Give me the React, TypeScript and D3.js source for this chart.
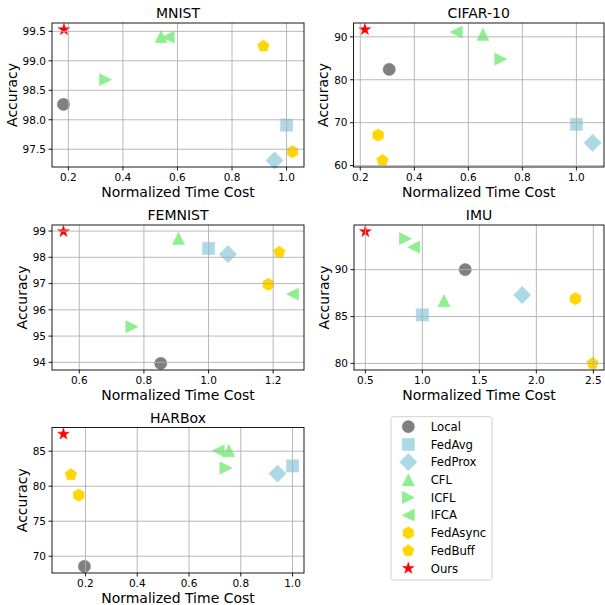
import React from "react";
import * as d3 from "d3";

const methods = ["Local", "FedAvg", "FedProx", "CFL", "ICFL", "IFCA", "FedAsync", "FedBuff", "Ours"];
const markerKinds = ["circle", "square", "diamond", "triUp", "triRight", "triLeft", "hexagon", "pentagon", "star"];
const colors = ["#808080", "#add8e6", "#add8e6", "#90ee90", "#90ee90", "#90ee90", "#ffd700", "#ffd700", "#ff0000"];

const titles = ["MNIST", "CIFAR-10", "FEMNIST", "IMU", "HARBox"];

const mnistCost = [0.182, 1.0, 0.956, 0.54, 0.336, 0.566, 1.022, 0.915, 0.184];
const mnistAcc = [98.26, 97.91, 97.31, 99.41, 98.68, 99.4, 97.46, 99.25, 99.53];
const cifarCost = [0.307, 1.0, 1.06, 0.654, 0.72, 0.555, 0.266, 0.282, 0.217];
const cifarAcc = [82.4, 69.6, 65.3, 90.6, 84.8, 91.1, 67.1, 61.2, 91.7];
const femnistCost = [0.852, 1.0, 1.06, 0.907, 0.763, 1.26, 1.185, 1.219, 0.551];
const femnistAcc = [93.96, 98.34, 98.12, 98.72, 95.36, 96.6, 96.97, 98.2, 98.98];
const imuCost = [1.376, 1.0, 1.876, 1.19, 0.852, 0.924, 2.343, 2.494, 0.5];
const imuAcc = [90.0, 85.17, 87.3, 86.7, 93.3, 92.4, 86.9, 80.0, 94.06];
const harboxCost = [0.196, 1.0, 0.942, 0.754, 0.743, 0.713, 0.174, 0.144, 0.115];
const harboxAcc = [68.55, 82.9, 81.8, 85.1, 82.6, 85.05, 78.73, 81.65, 87.44];

const costs = [mnistCost, cifarCost, femnistCost, imuCost, harboxCost];
const accs = [mnistAcc, cifarAcc, femnistAcc, imuAcc, harboxAcc];

const xTicks = [
  [0.2, 0.4, 0.6, 0.8, 1.0],
  [0.2, 0.4, 0.6, 0.8, 1.0],
  [0.6, 0.8, 1.0, 1.2],
  [0.5, 1.0, 1.5, 2.0, 2.5],
  [0.2, 0.4, 0.6, 0.8, 1.0],
];
const yTicks = [
  [97.5, 98.0, 98.5, 99.0, 99.5],
  [60, 70, 80, 90],
  [94, 95, 96, 97, 98, 99],
  [80, 85, 90],
  [70, 75, 80, 85],
];
const yFormats = [".1f", "d", "d", "d", "d"];
const xFormats = [".1f", ".1f", ".1f", ".1f", ".1f"];

// layout (pixel boxes for the axes)
const boxes = [
  { l: 52, t: 23, r: 304, b: 167 },
  { l: 353.5, t: 23, r: 604, b: 167 },
  { l: 52, t: 225, r: 304, b: 370 },
  { l: 354, t: 225, r: 604, b: 370 },
  { l: 52, t: 427.5, r: 304, b: 573 },
];

const FONT = "DejaVu Sans, Verdana, sans-serif";
const MS = 12.3;

function polygon(n: number, r: number, rot = -Math.PI / 2) {
  const pts: [number, number][] = [];
  for (let i = 0; i < n; i++) {
    const a = rot + (i * 2 * Math.PI) / n;
    pts.push([r * Math.cos(a), r * Math.sin(a)]);
  }
  return "M" + pts.map((p) => p[0].toFixed(2) + "," + p[1].toFixed(2)).join("L") + "Z";
}

function markerPath(kind: string, s: number) {
  const h = s / 2;
  switch (kind) {
    case "circle":
      return `M${h},0A${h},${h} 0 1,1 ${-h},0A${h},${h} 0 1,1 ${h},0Z`;
    case "square":
      return `M${-h},${-h}L${h},${-h}L${h},${h}L${-h},${h}Z`;
    case "diamond": {
      const d = h * Math.SQRT2;
      return `M0,${-d}L${d},0L0,${d}L${-d},0Z`;
    }
    case "triUp":
      return `M0,${-h}L${h},${h}L${-h},${h}Z`;
    case "triRight":
      return `M${h},0L${-h},${-h}L${-h},${h}Z`;
    case "triLeft":
      return `M${-h},0L${h},${-h}L${h},${h}Z`;
    case "hexagon":
      return polygon(6, h);
    case "pentagon":
      return polygon(5, h);
    case "star": {
      const pts: string[] = [];
      for (let i = 0; i < 10; i++) {
        const rr = i % 2 === 0 ? h : h * 0.381966;
        const a = -Math.PI / 2 + (i * Math.PI) / 5;
        pts.push((rr * Math.cos(a)).toFixed(2) + "," + (rr * Math.sin(a)).toFixed(2));
      }
      return "M" + pts.join("L") + "Z";
    }
  }
  return "";
}

function Panel({ idx }: { idx: number }) {
  const box = boxes[idx];
  const xs = costs[idx];
  const ys = accs[idx];
  const [x0, x1] = d3.extent(xs) as [number, number];
  const [y0, y1] = d3.extent(ys) as [number, number];
  const mx = (x1 - x0) * 0.05;
  const my = (y1 - y0) * 0.05;
  const x = d3.scaleLinear().domain([x0 - mx, x1 + mx]).range([box.l, box.r]);
  const y = d3.scaleLinear().domain([y0 - my, y1 + my]).range([box.b, box.t]);
  const fx = d3.format(xFormats[idx]);
  const fy = d3.format(yFormats[idx]);
  const tickFs = 10.5;
  const labelW = d3.max(yTicks[idx], (v) => {
    const s = fy(v);
    let w = 0;
    for (const c of s) w += c === "." ? 0.318 : 0.636;
    return w * tickFs;
  }) as number;
  const yLabelX = box.l - 6.5 - labelW - 5.5;
  const cx = (box.l + box.r) / 2;
  const cy = (box.t + box.b) / 2;
  return (
    <g>
      {xs.map((v, i) => (
        <path
          key={"m" + i}
          d={markerPath(markerKinds[i], MS)}
          transform={`translate(${x(v)},${y(ys[i])})`}
          fill={colors[i]}
          stroke={colors[i]}
          strokeWidth={0.5}
        />
      ))}
      {xTicks[idx].map((v) => (
        <line key={"gx" + v} x1={x(v)} x2={x(v)} y1={box.t} y2={box.b} stroke="#b0b0b0" strokeWidth={0.9} />
      ))}
      {yTicks[idx].map((v) => (
        <line key={"gy" + v} x1={box.l} x2={box.r} y1={y(v)} y2={y(v)} stroke="#b0b0b0" strokeWidth={0.9} />
      ))}
      <rect x={box.l} y={box.t} width={box.r - box.l} height={box.b - box.t} fill="none" stroke="#000" strokeWidth={0.9} />
      {xTicks[idx].map((v) => (
        <g key={"tx" + v}>
          <line x1={x(v)} x2={x(v)} y1={box.b} y2={box.b + 3.5} stroke="#000" strokeWidth={0.9} />
          <text x={x(v)} y={box.b + 14} textAnchor="middle" fontSize={tickFs} fontFamily={FONT} fill="#000">
            {fx(v)}
          </text>
        </g>
      ))}
      {yTicks[idx].map((v) => (
        <g key={"ty" + v}>
          <line x1={box.l - 3.5} x2={box.l} y1={y(v)} y2={y(v)} stroke="#000" strokeWidth={0.9} />
          <text x={box.l - 6} y={y(v) + 3.8} textAnchor="end" fontSize={tickFs} fontFamily={FONT} fill="#000">
            {fy(v)}
          </text>
        </g>
      ))}
      <text x={cx} y={box.t - 5} textAnchor="middle" fontSize={14} fontFamily={FONT} fill="#000">
        {titles[idx]}
      </text>
      <text x={cx} y={box.b + 29.5} textAnchor="middle" fontSize={14} fontFamily={FONT} fill="#000">
        Normalized Time Cost
      </text>
      <text
        transform={`translate(${yLabelX},${cy}) rotate(-90)`}
        textAnchor="middle"
        fontSize={14}
        fontFamily={FONT}
        fill="#000"
      >
        Accuracy
      </text>
    </g>
  );
}

function Legend() {
  const lx = 391, ly = 416.7, lw = 101, lh = 163.3;
  const rowY = d3.scaleLinear().domain([0, methods.length - 1]).range([426.7, 568.3]);
  return (
    <g>
      <rect x={lx} y={ly} width={lw} height={lh} rx={2.5} fill="#fff" fillOpacity={0.8} stroke="#cccccc" strokeWidth={0.9} />
      {methods.map((m, i) => (
        <g key={m}>
          <path
            d={markerPath(markerKinds[i], MS)}
            transform={`translate(408.3,${rowY(i)})`}
            fill={colors[i]}
            stroke={colors[i]}
            strokeWidth={0.5}
          />
          <text x={430.7} y={rowY(i) + 4.2} fontSize={11.7} fontFamily={FONT} fill="#000">
            {m}
          </text>
        </g>
      ))}
    </g>
  );
}

export default function App() {
  return (
    <svg
      width={605}
      height={605}
      viewBox="0 0 605 605"
      style={{ position: "fixed", left: 0, top: 0, background: "#fff" }}
    >
      <rect x={0} y={0} width={605} height={605} fill="#fff" />
      {titles.map((t, i) => (
        <Panel key={t} idx={i} />
      ))}
      <Legend />
    </svg>
  );
}
